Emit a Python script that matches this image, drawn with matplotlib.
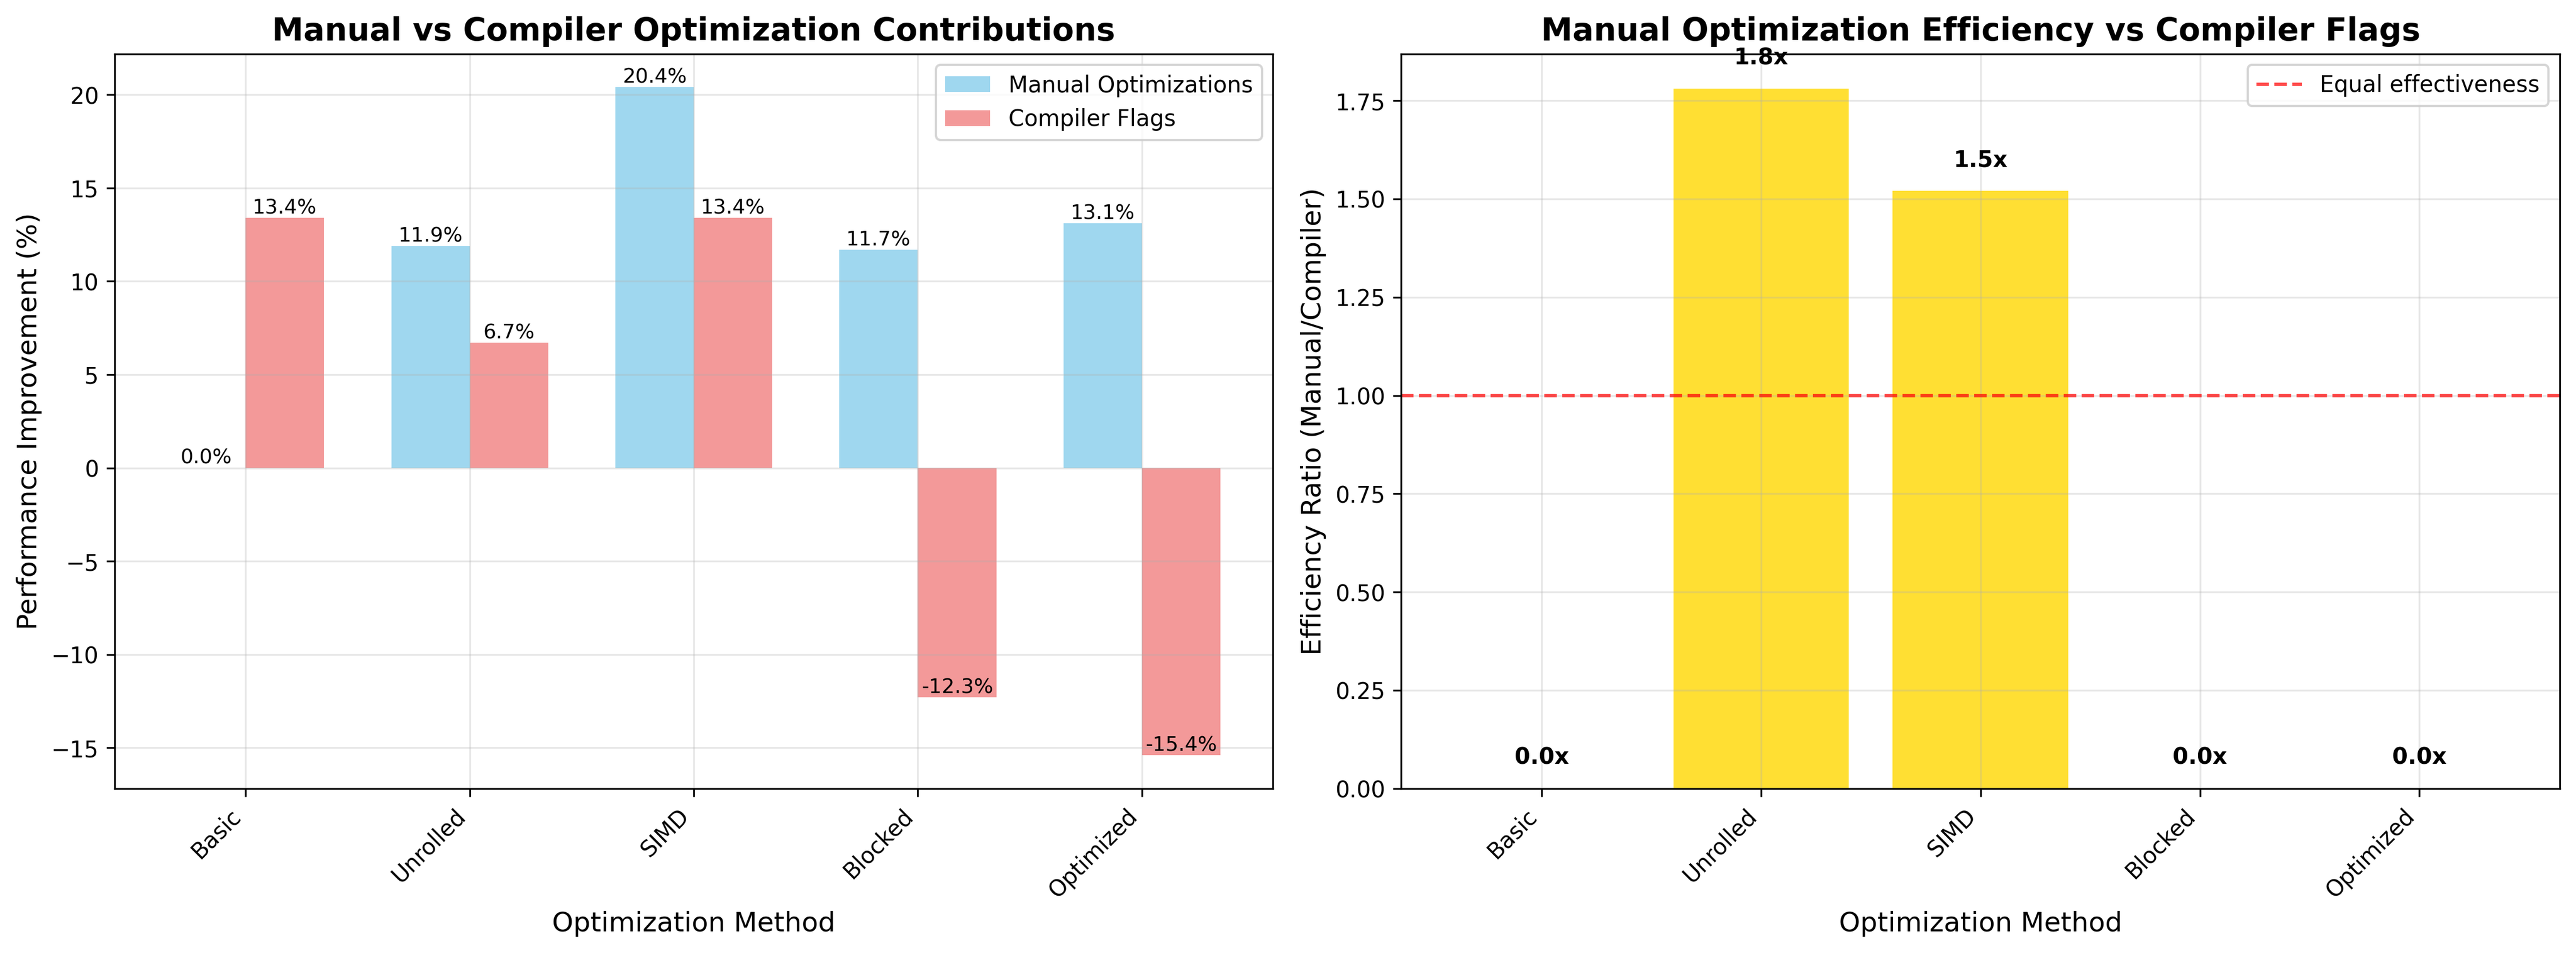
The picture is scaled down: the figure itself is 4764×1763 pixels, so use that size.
import matplotlib
matplotlib.use("Agg")
import matplotlib.pyplot as plt
import numpy as np

methods = ["Basic", "Unrolled", "SIMD", "Blocked", "Optimized"]
manual = [0.0, 11.9, 20.4, 11.7, 13.1]
compiler = [13.4, 6.7, 13.4, -12.3, -15.4]
ratio = [0.0, 1.78, 1.52, 0.0, 0.0]

fig, (ax1, ax2) = plt.subplots(1, 2, figsize=(16, 6))
x = np.arange(len(methods))
w = 0.35
b1 = ax1.bar(x - w/2, manual, w, label="Manual Optimizations", color="skyblue", alpha=0.8)
b2 = ax1.bar(x + w/2, compiler, w, label="Compiler Flags", color="lightcoral", alpha=0.8)
for bars in (b1, b2):
    for b in bars:
        h = b.get_height()
        ax1.text(b.get_x() + b.get_width()/2, h, f"{h:.1f}%", ha="center", va="bottom", fontsize=9)
ax1.set_xticks(x)
ax1.set_xticklabels(methods, rotation=45, ha="right")
ax1.set_xlabel("Optimization Method", fontsize=12)
ax1.set_ylabel("Performance Improvement (%)", fontsize=12)
ax1.set_title("Manual vs Compiler Optimization Contributions", fontsize=14, fontweight="bold")
ax1.legend()
ax1.grid(True, alpha=0.3)

bars = ax2.bar(methods, ratio, color="gold", alpha=0.8)
ax2.axhline(1.0, color="red", linestyle="--", alpha=0.7, label="Equal effectiveness")
for b, r in zip(bars, ratio):
    ax2.text(b.get_x() + b.get_width()/2, b.get_height() + 0.05, f"{r:.1f}x", ha="center", va="bottom", fontweight="bold")
ax2.set_xticks(range(len(methods)))
ax2.set_xticklabels(methods, rotation=45, ha="right")
ax2.set_xlabel("Optimization Method", fontsize=12)
ax2.set_ylabel("Efficiency Ratio (Manual/Compiler)", fontsize=12)
ax2.set_title("Manual Optimization Efficiency vs Compiler Flags", fontsize=14, fontweight="bold")
ax2.legend()
ax2.grid(True, alpha=0.3)

plt.tight_layout()
plt.savefig("out.png", dpi=300, bbox_inches="tight")
